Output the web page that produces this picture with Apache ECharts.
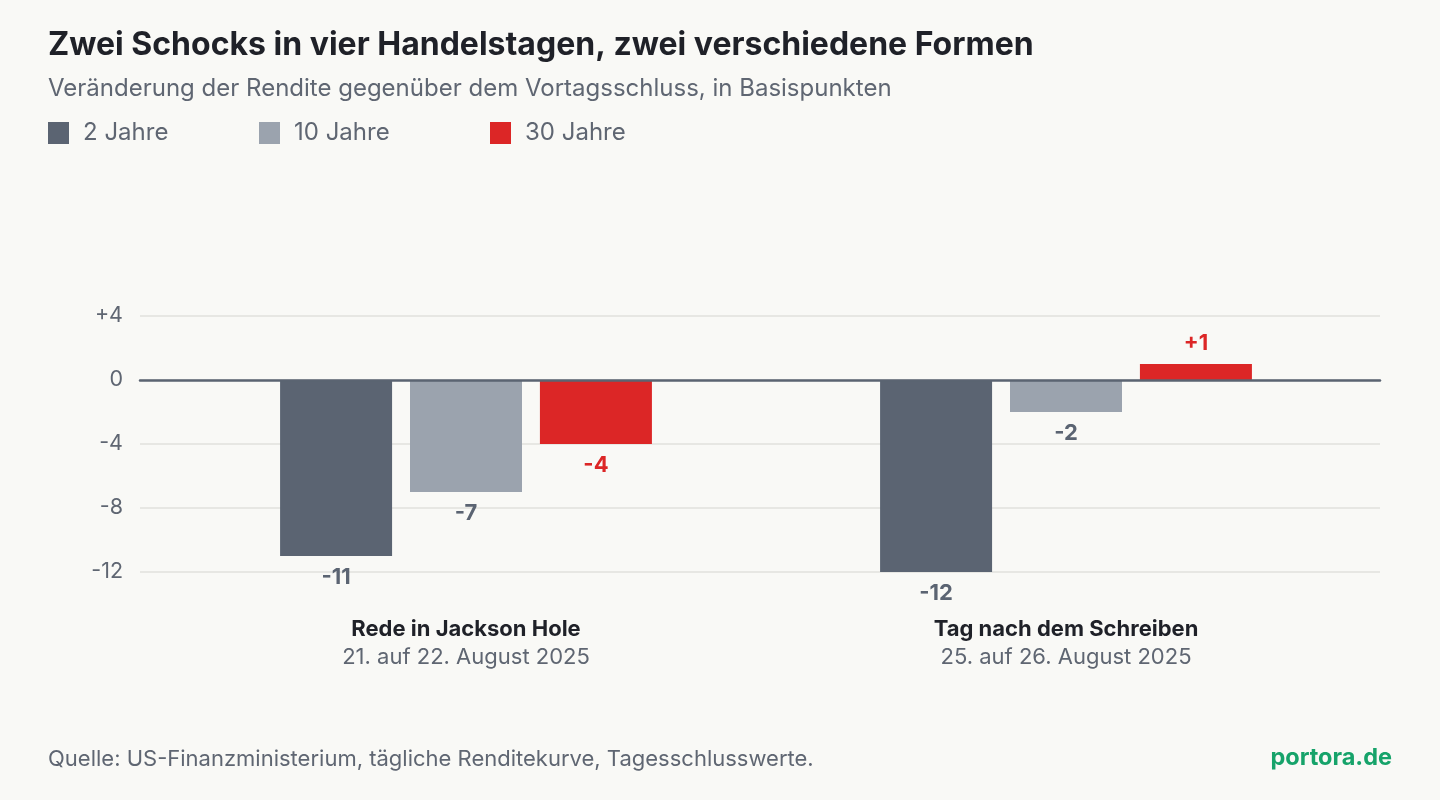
<!DOCTYPE html>
<html><head><meta charset="utf-8">
<script src="https://cdn.jsdelivr.net/npm/echarts@6/dist/echarts.min.js"></script>
<style>html,body{margin:0;padding:0;background:#f9f9f6;}#c{width:1440px;height:800px;}</style>
</head><body><div id="c"></div>
<script>
const categories = ['Rede in Jackson Hole', 'Tag nach dem Schreiben'];
const categoryDates = ['21. auf 22. August 2025', '25. auf 26. August 2025'];
const seriesNames = ['2 Jahre', '10 Jahre', '30 Jahre'];
const values2y = [-11, -12];
const values10y = [-7, -2];
const values30y = [-4, 1];
const yTicks = [4, 0, -4, -8, -12];

const colors = ['#5b6472', '#9ba3ae', '#dc2626'];
const labelColors = ['#5b6472', '#5b6472', '#dc2626'];
const legendLefts = [48, 259, 490];
const FONT = 'Inter, "Noto Sans", sans-serif';

const chart = echarts.init(document.getElementById('c'));
const fmt = v => v > 0 ? '+' + v : String(v);
function mkSeries(name, vals, i) {
  return {
    name: name, type: 'bar', xAxisIndex: 1, yAxisIndex: 1,
    barWidth: 112, barGap: '16%',
    itemStyle: { color: colors[i] },
    data: vals.map(v => ({ value: v, label: { position: v < 0 ? 'bottom' : 'top' } })),
    label: { show: true, distance: 10, formatter: p => fmt(p.value), color: labelColors[i],
      fontFamily: FONT, fontSize: 22, fontWeight: 'bold' },
    emphasis: { disabled: true }, animation: false
  };
}
const yMin = yTicks[yTicks.length - 1], yMax = yTicks[0];
chart.setOption({
  backgroundColor: '#f9f9f6',
  animation: false,
  title: [
    { text: 'Zwei Schocks in vier Handelstagen, zwei verschiedene Formen', left: 48, top: 29, padding: 0,
      textStyle: { fontFamily: FONT, fontSize: 32, fontWeight: 'bold', color: '#1f2128' } },
    { text: 'Veränderung der Rendite gegenüber dem Vortagsschluss, in Basispunkten', left: 48, top: 77, padding: 0,
      textStyle: { fontFamily: FONT, fontSize: 24, fontWeight: 'normal', color: '#5f6672' } },
    { text: 'Quelle: US-Finanzministerium, tägliche Renditekurve, Tagesschlusswerte.', left: 48, top: 748, padding: 0,
      textStyle: { fontFamily: FONT, fontSize: 22, fontWeight: 'normal', color: '#5f6672' } },
    { text: 'portora.de', right: 48, top: 746, padding: 0,
      textStyle: { fontFamily: FONT, fontSize: 23.5, fontWeight: 'bold', color: '#16a36a' } }
  ],
  legend: seriesNames.map((n, i) => ({
    left: legendLefts[i], top: 121, padding: 0, itemWidth: 21, itemHeight: 22, icon: 'rect',
    data: [n],
    textStyle: { fontFamily: FONT, fontSize: 24, color: '#5f6672', padding: [0, 0, 0, 9] }
  })),
  grid: [
    { left: 140, right: 60, top: 316, height: 256 },
    { left: 166, right: 74, top: 316, height: 256 }
  ],
  xAxis: [
    { type: 'category', gridIndex: 0, data: ['a'], axisLabel: { show: false }, axisTick: { show: false },
      axisLine: { show: true, onZero: true, lineStyle: { color: '#5b6472', width: 2.5 } }, z: 5 },
    { type: 'category', gridIndex: 1, data: categories, axisLine: { show: false }, axisTick: { show: false },
      axisLabel: {
        margin: 43, interval: 0,
        formatter: (v, idx) => '{b|' + v + '}\n{d|' + categoryDates[idx] + '}',
        rich: {
          b: { fontFamily: FONT, fontSize: 22, fontWeight: 'bold', color: '#1f2128', lineHeight: 28 },
          d: { fontFamily: FONT, fontSize: 22, color: '#5f6672', lineHeight: 28 }
        }
      } }
  ],
  yAxis: [
    { type: 'value', gridIndex: 0, min: yMin, max: yMax, interval: 4,
      axisLine: { show: false }, axisTick: { show: false },
      splitLine: { lineStyle: { color: '#e1e1dc', width: 1.5 } },
      axisLabel: { formatter: fmt, margin: 17, fontFamily: FONT, fontSize: 21.5, color: '#5f6672' } },
    { type: 'value', gridIndex: 1, min: yMin, max: yMax, interval: 4, show: false,
      splitLine: { show: false } }
  ],
  series: [
    mkSeries(seriesNames[0], values2y, 0),
    mkSeries(seriesNames[1], values10y, 1),
    mkSeries(seriesNames[2], values30y, 2)
  ]
});
</script></body></html>
